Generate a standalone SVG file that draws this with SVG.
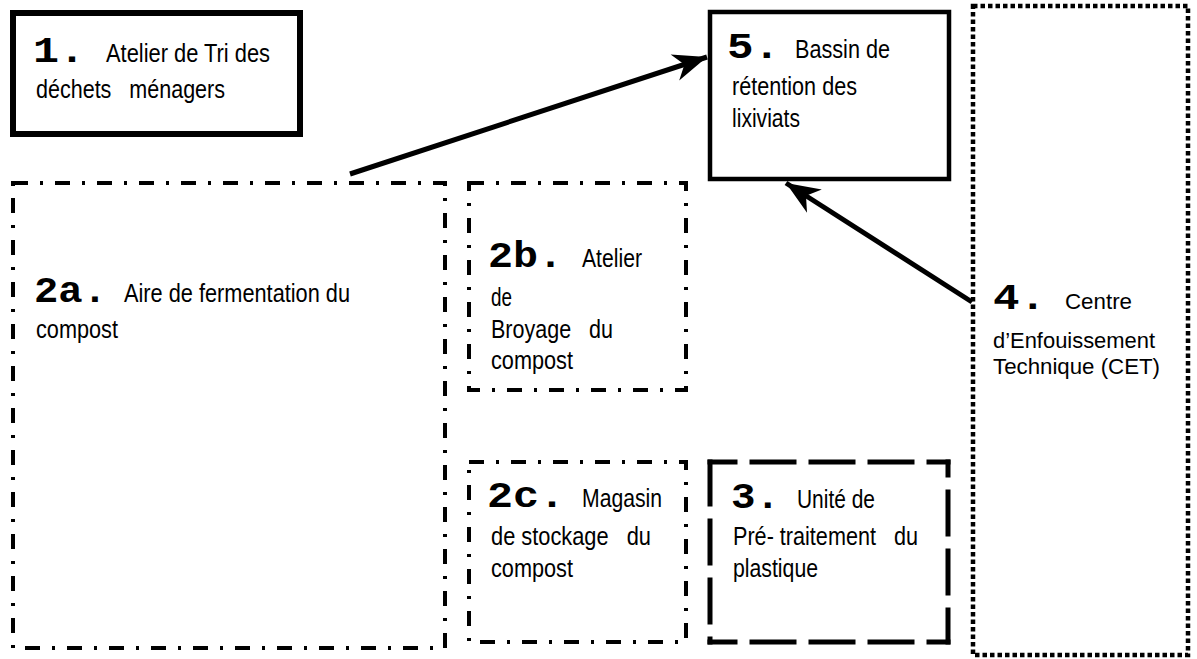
<svg xmlns="http://www.w3.org/2000/svg" width="1197" height="659" viewBox="0 0 1197 659">
<style>
.t{font-family:"Liberation Sans",Arial,sans-serif;font-size:26.5px;fill:#000;white-space:pre}
.w{font-family:"Liberation Sans",Arial,sans-serif;font-size:22px;fill:#000}
.n{font-family:"Liberation Mono","Courier New",monospace;font-weight:bold;font-size:36px;fill:#000}
.dd{fill:none;stroke:#000;stroke-width:4;stroke-dasharray:15 12 3 12}
.ds{fill:none;stroke:#000;stroke-width:5;stroke-dasharray:42 17;stroke-linecap:square}
.edge{fill:none;stroke:#000;stroke-width:5}
</style>
<defs>
<marker id="arr" markerUnits="userSpaceOnUse" markerWidth="40" markerHeight="40" viewBox="-30 -15 32 30" refX="0" refY="0" orient="auto">
<path d="M0,0 L-27,-11 L-19,0 L-27,11 Z" fill="#000"/>
</marker>
</defs>
<rect width="1197" height="659" fill="#fff"/>
<g id="node1">
<rect x="13" y="13" width="287" height="121" fill="none" stroke="#000" stroke-width="6"/>
<text class="n" x="33" y="62" textLength="52" lengthAdjust="spacingAndGlyphs">1.</text>
<text class="t" x="106" y="62" textLength="164" lengthAdjust="spacingAndGlyphs">Atelier de Tri des</text>
<text class="t" x="36" y="98" textLength="189" lengthAdjust="spacingAndGlyphs" xml:space="preserve">déchets   ménagers</text>
</g>
<g id="node2a">
<rect class="dd" x="13" y="183" width="432" height="465"/>
<text class="n" x="34" y="302" textLength="73" lengthAdjust="spacingAndGlyphs">2a.</text>
<text class="t" x="124" y="302" textLength="226" lengthAdjust="spacingAndGlyphs">Aire de fermentation du</text>
<text class="t" x="36" y="338" textLength="82" lengthAdjust="spacingAndGlyphs">compost</text>
</g>
<g id="node2b">
<rect class="dd" x="469" y="183" width="217" height="207"/>
<text class="n" x="488" y="267" textLength="75" lengthAdjust="spacingAndGlyphs">2b.</text>
<text class="t" x="582" y="267" textLength="60" lengthAdjust="spacingAndGlyphs">Atelier</text>
<text class="t" x="491" y="306" textLength="21" lengthAdjust="spacingAndGlyphs">de</text>
<text class="t" x="491" y="338" textLength="122" lengthAdjust="spacingAndGlyphs" xml:space="preserve">Broyage   du</text>
<text class="t" x="491" y="369" textLength="82" lengthAdjust="spacingAndGlyphs">compost</text>
</g>
<g id="node2c">
<rect class="dd" x="469" y="462" width="217" height="180"/>
<text class="n" x="487" y="507" textLength="78" lengthAdjust="spacingAndGlyphs">2c.</text>
<text class="t" x="582" y="507" textLength="80" lengthAdjust="spacingAndGlyphs">Magasin</text>
<text class="t" x="491" y="545" textLength="160" lengthAdjust="spacingAndGlyphs" xml:space="preserve">de stockage   du</text>
<text class="t" x="491" y="577" textLength="82" lengthAdjust="spacingAndGlyphs">compost</text>
</g>
<g id="node3">
<line class="ds" x1="710" y1="462" x2="948" y2="462" stroke-dashoffset="17"/>
<line class="ds" x1="710" y1="642" x2="948" y2="642" stroke-dashoffset="17"/>
<line class="ds" x1="710" y1="462" x2="710" y2="642" stroke-dashoffset="0"/>
<line class="ds" x1="948" y1="642" x2="948" y2="462" stroke-dashoffset="10"/>
<text class="n" x="731" y="508" textLength="49" lengthAdjust="spacingAndGlyphs">3.</text>
<text class="t" x="797" y="508" textLength="78" lengthAdjust="spacingAndGlyphs">Unité de</text>
<text class="t" x="733" y="545" textLength="185" lengthAdjust="spacingAndGlyphs" xml:space="preserve">Pré- traitement   du</text>
<text class="t" x="733" y="577" textLength="85" lengthAdjust="spacingAndGlyphs">plastique</text>
</g>
<g id="node4">
<rect x="973" y="6" width="215" height="649" fill="none" stroke="#000" stroke-width="4.5" stroke-dasharray="4.5 3"/>
<text class="n" x="993" y="309" textLength="53" lengthAdjust="spacingAndGlyphs">4.</text>
<text class="w" x="1065" y="309" textLength="67" lengthAdjust="spacingAndGlyphs">Centre</text>
<text class="w" x="993" y="348" textLength="162" lengthAdjust="spacingAndGlyphs">d’Enfouissement</text>
<text class="w" x="993" y="374" textLength="167" lengthAdjust="spacingAndGlyphs">Technique (CET)</text>
</g>
<g id="node5">
<rect x="710" y="12" width="239" height="167" fill="none" stroke="#000" stroke-width="4.5"/>
<text class="n" x="727" y="58" textLength="53" lengthAdjust="spacingAndGlyphs">5.</text>
<text class="t" x="795" y="58" textLength="95" lengthAdjust="spacingAndGlyphs">Bassin de</text>
<text class="t" x="732" y="95" textLength="125" lengthAdjust="spacingAndGlyphs">rétention des</text>
<text class="t" x="732" y="127" textLength="68" lengthAdjust="spacingAndGlyphs">lixiviats</text>
</g>
<g id="connectors">
<line class="edge" x1="350" y1="174" x2="707" y2="57" marker-end="url(#arr)"/>
<line class="edge" x1="972" y1="302" x2="786" y2="183" marker-end="url(#arr)"/>
</g>
</svg>
